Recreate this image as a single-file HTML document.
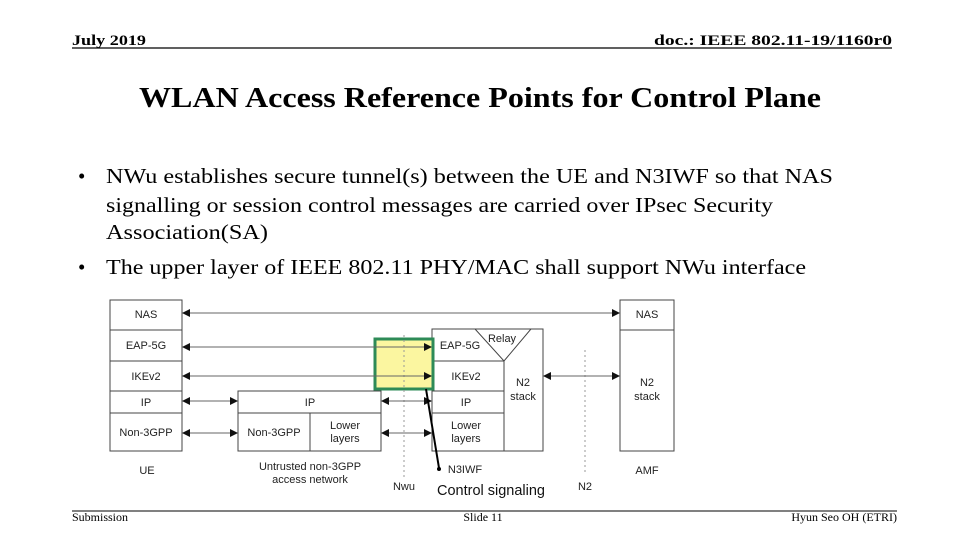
<!DOCTYPE html>
<html><head><meta charset="utf-8"><style>
html,body{margin:0;padding:0;background:#fff;}
svg{display:block;}
.s{font-family:"Liberation Serif",serif;}
.a{font-family:"Liberation Sans",sans-serif;font-size:11px;fill:#222;}
</style></head><body>
<svg width="960" height="540" viewBox="0 0 960 540" xmlns="http://www.w3.org/2000/svg">
<defs>
<marker id="ah" markerWidth="8" markerHeight="8" refX="7" refY="4" orient="auto-start-reverse" markerUnits="userSpaceOnUse">
<path d="M0,0 L8,4 L0,8 z" fill="#111"/></marker>
</defs>
<g class="s" font-weight="bold">
<text x="72" y="45" font-size="15" textLength="74" lengthAdjust="spacingAndGlyphs">July 2019</text>
<text x="892" y="45" font-size="15" text-anchor="end" textLength="238" lengthAdjust="spacingAndGlyphs">doc.: IEEE 802.11-19/1160r0</text>
<text x="480" y="107" font-size="28" text-anchor="middle" textLength="682" lengthAdjust="spacingAndGlyphs">WLAN Access Reference Points for Control Plane</text>
</g>
<line x1="72" y1="48" x2="892" y2="48" stroke="#000" stroke-width="1.2"/>
<g class="s" font-size="21">
<text x="78" y="183">•</text>
<text x="106" y="183" textLength="727" lengthAdjust="spacingAndGlyphs">NWu  establishes secure tunnel(s) between the UE and N3IWF so that NAS</text>
<text x="106" y="212" textLength="667" lengthAdjust="spacingAndGlyphs">signalling or session control messages are carried over IPsec Security</text>
<text x="106" y="239" textLength="162" lengthAdjust="spacingAndGlyphs">Association(SA)</text>
<text x="78" y="274">•</text>
<text x="106" y="274" textLength="700" lengthAdjust="spacingAndGlyphs">The upper layer of IEEE 802.11 PHY/MAC shall support NWu interface</text>
</g>
<!-- diagram -->
<g fill="#fff" stroke="#444" stroke-width="1">
<rect x="110" y="300" width="72" height="151"/>
<line x1="110" y1="330" x2="182" y2="330"/><line x1="110" y1="361" x2="182" y2="361"/>
<line x1="110" y1="391" x2="182" y2="391"/><line x1="110" y1="413" x2="182" y2="413"/>
<rect x="238" y="391" width="143" height="60"/>
<line x1="238" y1="413" x2="381" y2="413"/><line x1="310" y1="413" x2="310" y2="451"/>
<rect x="432" y="329" width="111" height="122"/>
<line x1="504" y1="361" x2="504" y2="451"/>
<line x1="432" y1="361" x2="504" y2="361"/><line x1="432" y1="391" x2="504" y2="391"/><line x1="432" y1="413" x2="504" y2="413"/>
<path d="M475,329 L531,329 L504,361 z"/>
<line x1="432" y1="361" x2="476" y2="361"/>
<rect x="620" y="300" width="54" height="151"/>
<line x1="620" y1="330" x2="674" y2="330"/>
</g>
<rect x="375" y="339" width="58" height="50" fill="#fbf6a0" stroke="#2e8b57" stroke-width="3"/>
<g stroke="#999" stroke-dasharray="2,3" stroke-width="1">
<line x1="404" y1="335" x2="404" y2="478"/>
<line x1="585" y1="350" x2="585" y2="472"/>
</g>
<g stroke="#666" stroke-width="1" marker-start="url(#ah)" marker-end="url(#ah)">
<line x1="183" y1="313" x2="619" y2="313"/>
<line x1="183" y1="347" x2="431" y2="347"/>
<line x1="183" y1="376" x2="431" y2="376"/>
<line x1="183" y1="401" x2="237" y2="401"/>
<line x1="382" y1="401" x2="431" y2="401"/>
<line x1="183" y1="433" x2="237" y2="433"/>
<line x1="382" y1="433" x2="431" y2="433"/>
<line x1="544" y1="376" x2="619" y2="376"/>
</g>
<line x1="426" y1="389" x2="439" y2="468" stroke="#000" stroke-width="2"/>
<circle cx="439" cy="469" r="2" fill="#000"/>
<g class="a" text-anchor="middle">
<text x="146" y="318">NAS</text><text x="146" y="349">EAP-5G</text><text x="146" y="380">IKEv2</text>
<text x="146" y="406">IP</text><text x="146" y="436">Non-3GPP</text>
<text x="310" y="406">IP</text><text x="274" y="436">Non-3GPP</text>
<text x="345" y="429">Lower</text><text x="345" y="442">layers</text>
<text x="460" y="349">EAP-5G</text><text x="502" y="342">Relay</text>
<text x="466" y="380">IKEv2</text><text x="466" y="406">IP</text>
<text x="466" y="429">Lower</text><text x="466" y="442">layers</text>
<text x="523" y="386">N2</text><text x="523" y="400">stack</text>
<text x="647" y="318">NAS</text><text x="647" y="386">N2</text><text x="647" y="400">stack</text>
<text x="147" y="474">UE</text>
<text x="310" y="470">Untrusted non-3GPP</text><text x="310" y="483">access network</text>
<text x="404" y="490">Nwu</text><text x="465" y="473">N3IWF</text>
<text x="585" y="490">N2</text><text x="647" y="474">AMF</text>
</g>
<text x="491" y="495" text-anchor="middle" font-family="Liberation Sans,sans-serif" font-size="14.5" fill="#111">Control signaling</text>
<line x1="72" y1="511" x2="897" y2="511" stroke="#000" stroke-width="1"/>
<g class="s" font-size="12">
<text x="72" y="521">Submission</text>
<text x="483" y="521" text-anchor="middle">Slide 11</text>
<text x="897" y="521" text-anchor="end">Hyun Seo OH (ETRI)</text>
</g>
</svg>
</body></html>
